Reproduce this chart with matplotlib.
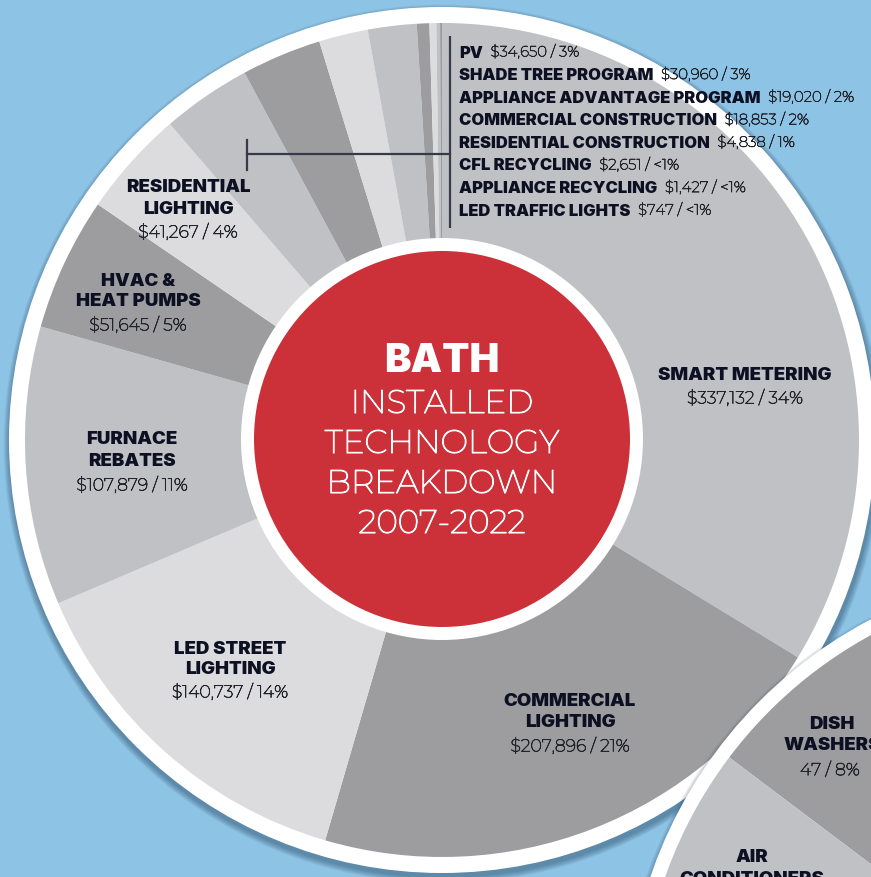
import matplotlib
matplotlib.use("Agg")
import matplotlib.pyplot as plt
from matplotlib.patches import Circle, Wedge
from matplotlib import font_manager as fm
from matplotlib.font_manager import FontProperties
import matplotlib.patheffects as pe

# ---------------- data ----------------
categories = ["SMART METERING", "COMMERCIAL LIGHTING", "LED STREET LIGHTING",
              "FURNACE REBATES", "HVAC & HEAT PUMPS", "RESIDENTIAL LIGHTING",
              "PV", "SHADE TREE PROGRAM", "APPLIANCE ADVANTAGE PROGRAM",
              "COMMERCIAL CONSTRUCTION", "RESIDENTIAL CONSTRUCTION",
              "CFL RECYCLING", "APPLIANCE RECYCLING", "LED TRAFFIC LIGHTS"]
dollars = [337132, 207896, 140737, 107879, 51645, 41267,
           34650, 30960, 19020, 18853, 4838, 2651, 1427, 747]
pct_labels = ["34%", "21%", "14%", "11%", "5%", "4%",
              "3%", "3%", "2%", "2%", "1%", "<1%", "<1%", "<1%"]

second_categories = ["DISH WASHERS", "AIR CONDITIONERS"]
second_counts = [47, None]
second_shares = [8, 22]          # percent (air conditioners share not visible; estimated)

title_bold = "BATH"
title_lines = ["INSTALLED", "TECHNOLOGY", "BREAKDOWN", "2007-2022"]

# ---------------- fonts ----------------
mont = [f for f in fm.fontManager.ttflist
        if f.name.startswith("Montserrat") and "Alternates" not in f.name
        and f.style == "normal"]
heavy = [f for f in mont if isinstance(f.weight, int) and f.weight >= 800]
if heavy:
    heavy.sort(key=lambda f: -f.weight)
    FP_BOLD = FontProperties(fname=heavy[0].fname)
    BOLD_SCALE = 1.0
else:
    FP_BOLD = FontProperties(family="Inter", weight=900)
    BOLD_SCALE = 1.1
if any(f.name == "Montserrat" for f in mont):
    FP_LIGHT = FontProperties(family="Montserrat", weight=300)
else:
    FP_LIGHT = FontProperties(family="Lato", weight=400)

def fpb(size):
    p = FP_BOLD.copy()
    p.set_size(size * BOLD_SCALE)
    return p

def fpl(size):
    p = FP_LIGHT.copy()
    p.set_size(size)
    return p

def thick(color, lw=0.45):
    return [pe.withStroke(linewidth=lw, foreground=color)]

# ---------------- style ----------------
BG = "#8dc3e4"
GREYS = ["#bfc1c5", "#9d9d9f", "#dcdcde"]
RED = "#cc3139"
INK = "#0c1022"
INK2 = "#22242c"

W, H = 871, 878
fig = plt.figure(figsize=(W / 100, H / 100), dpi=100, facecolor=BG)
ax = fig.add_axes([0, 0, 1, 1])
ax.set_facecolor(BG)

def Y(y):
    return H - y

def shadow(ax, cx, cy, r, z):
    for k in range(8, 0, -1):
        ax.add_patch(Circle((cx + 1, cy - 4), r + k * 0.8, color="#1d3a55",
                            alpha=0.06, lw=0, zorder=z))

# ---------------- main pie ----------------
cx, cy = 442, Y(441)
R_PIE, R_RING = 417, 433
shadow(ax, cx, cy, R_RING, 1)
ax.add_patch(Circle((cx, cy), R_RING, color="white", lw=0, zorder=2))
cols = [GREYS[i % 3] for i in range(len(dollars))]
wedges, _ = ax.pie(dollars, colors=cols, startangle=90, counterclock=False,
                   radius=R_PIE, center=(cx, cy),
                   wedgeprops=dict(linewidth=0, antialiased=True))
for w in wedges:
    w.set_zorder(3)

# centre disc
ax.add_patch(Circle((cx, Y(440)), 201, color="white", lw=0, zorder=4))
ax.add_patch(Circle((cx, Y(440)), 188, color=RED, lw=0, zorder=5))
ax.text(cx, Y(362), title_bold, ha="center", va="center",
        fontproperties=fpb(26), color="white", zorder=6)
for i, t in enumerate(title_lines):
    ax.text(cx, Y(405 + 40 * i), t, ha="center", va="center",
            fontproperties=fpl(23.5), color="white", zorder=6,
            path_effects=thick("white", 0.8))

def fmt(v):
    return "${:,}".format(v)

# big labels (name lines, value line)
big_pos = {0: (745, [375], 399), 1: (570, [702, 723], 747),
           2: (230, [649, 670], 693), 3: (132, [440, 461], 486),
           4: (138, [281, 302], 326), 5: (188, [188, 209], 233)}
big_names = {0: ["SMART METERING"], 1: ["COMMERCIAL", "LIGHTING"],
             2: ["LED STREET", "LIGHTING"], 3: ["FURNACE", "REBATES"],
             4: ["HVAC &", "HEAT PUMPS"], 5: ["RESIDENTIAL", "LIGHTING"]}
for i, (x, ys, yv) in big_pos.items():
    for name, yy in zip(big_names[i], ys):
        ax.text(x, Y(yy), name, ha="center", va="center", fontproperties=fpb(12.2),
                color=INK, zorder=7)
    ax.text(x, Y(yv), f"{fmt(dollars[i])} / {pct_labels[i]}", ha="center",
            va="center", fontproperties=fpl(12.5), color=INK2, zorder=7,
            path_effects=thick(INK2, 0.5))

# small list
list_x = 459
for k, i in enumerate(range(6, len(dollars))):
    yy = Y(53 + 22.6 * k)
    t = ax.text(list_x, yy, categories[i], ha="left", va="center",
                fontproperties=fpb(10.8), color=INK, zorder=7)
    ax.annotate(f"{fmt(dollars[i])} / {pct_labels[i]}", xy=(1, 0), xycoords=t,
                xytext=(5.5, 0), textcoords="offset points", ha="left",
                va="bottom", fontproperties=fpl(10.8), color=INK2, zorder=7,
                path_effects=thick(INK2, 0.45))

# leader lines
lc = "#363b47"
ax.plot([450, 450], [Y(37), Y(229)], color=lc, lw=1.6, zorder=7,
        solid_capstyle="butt")
ax.plot([247, 450], [Y(155), Y(155)], color=lc, lw=1.6, zorder=7)
ax.plot([247, 247], [Y(141), Y(171)], color=lc, lw=1.6, zorder=7)

# ---------------- second pie (partial) ----------------
c2x, c2y = 1083, Y(1025)
R2_PIE, R2_RING = 443, 457
shadow(ax, c2x, c2y, R2_RING, 8)
ax.add_patch(Circle((c2x, c2y), R2_RING, color="white", lw=0, zorder=9))
start = 143 - second_shares[0] * 3.6
cols2 = [GREYS[1], GREYS[0]]
theta = start
for share, col in zip(second_shares, cols2):
    t2 = theta + share * 3.6
    ax.add_patch(Wedge((c2x, c2y), R2_PIE, theta, t2, color=col, lw=0, zorder=10))
    theta = t2
ax.text(832, Y(725), "DISH", ha="center", va="center", fontproperties=fpb(12.2),
        color=INK, zorder=11)
ax.text(832, Y(746), "WASHERS", ha="center", va="center", fontproperties=fpb(12.2),
        color=INK, zorder=11)
ax.text(830, Y(771), f"{second_counts[0]} / {second_shares[0]}%", ha="center",
        va="center", fontproperties=fpl(12.5), color=INK2, zorder=11,
        path_effects=thick(INK2, 0.5))
ax.text(752, Y(858), "AIR", ha="center", va="center", fontproperties=fpb(12.2),
        color=INK, zorder=11)
ax.text(752, Y(880), "CONDITIONERS", ha="center", va="center",
        fontproperties=fpb(12.2), color=INK, zorder=11)

ax.set_xlim(0, W)
ax.set_ylim(0, H)
ax.set_aspect("equal")
ax.axis("off")
fig.savefig("out.png", dpi=100, facecolor=BG)
